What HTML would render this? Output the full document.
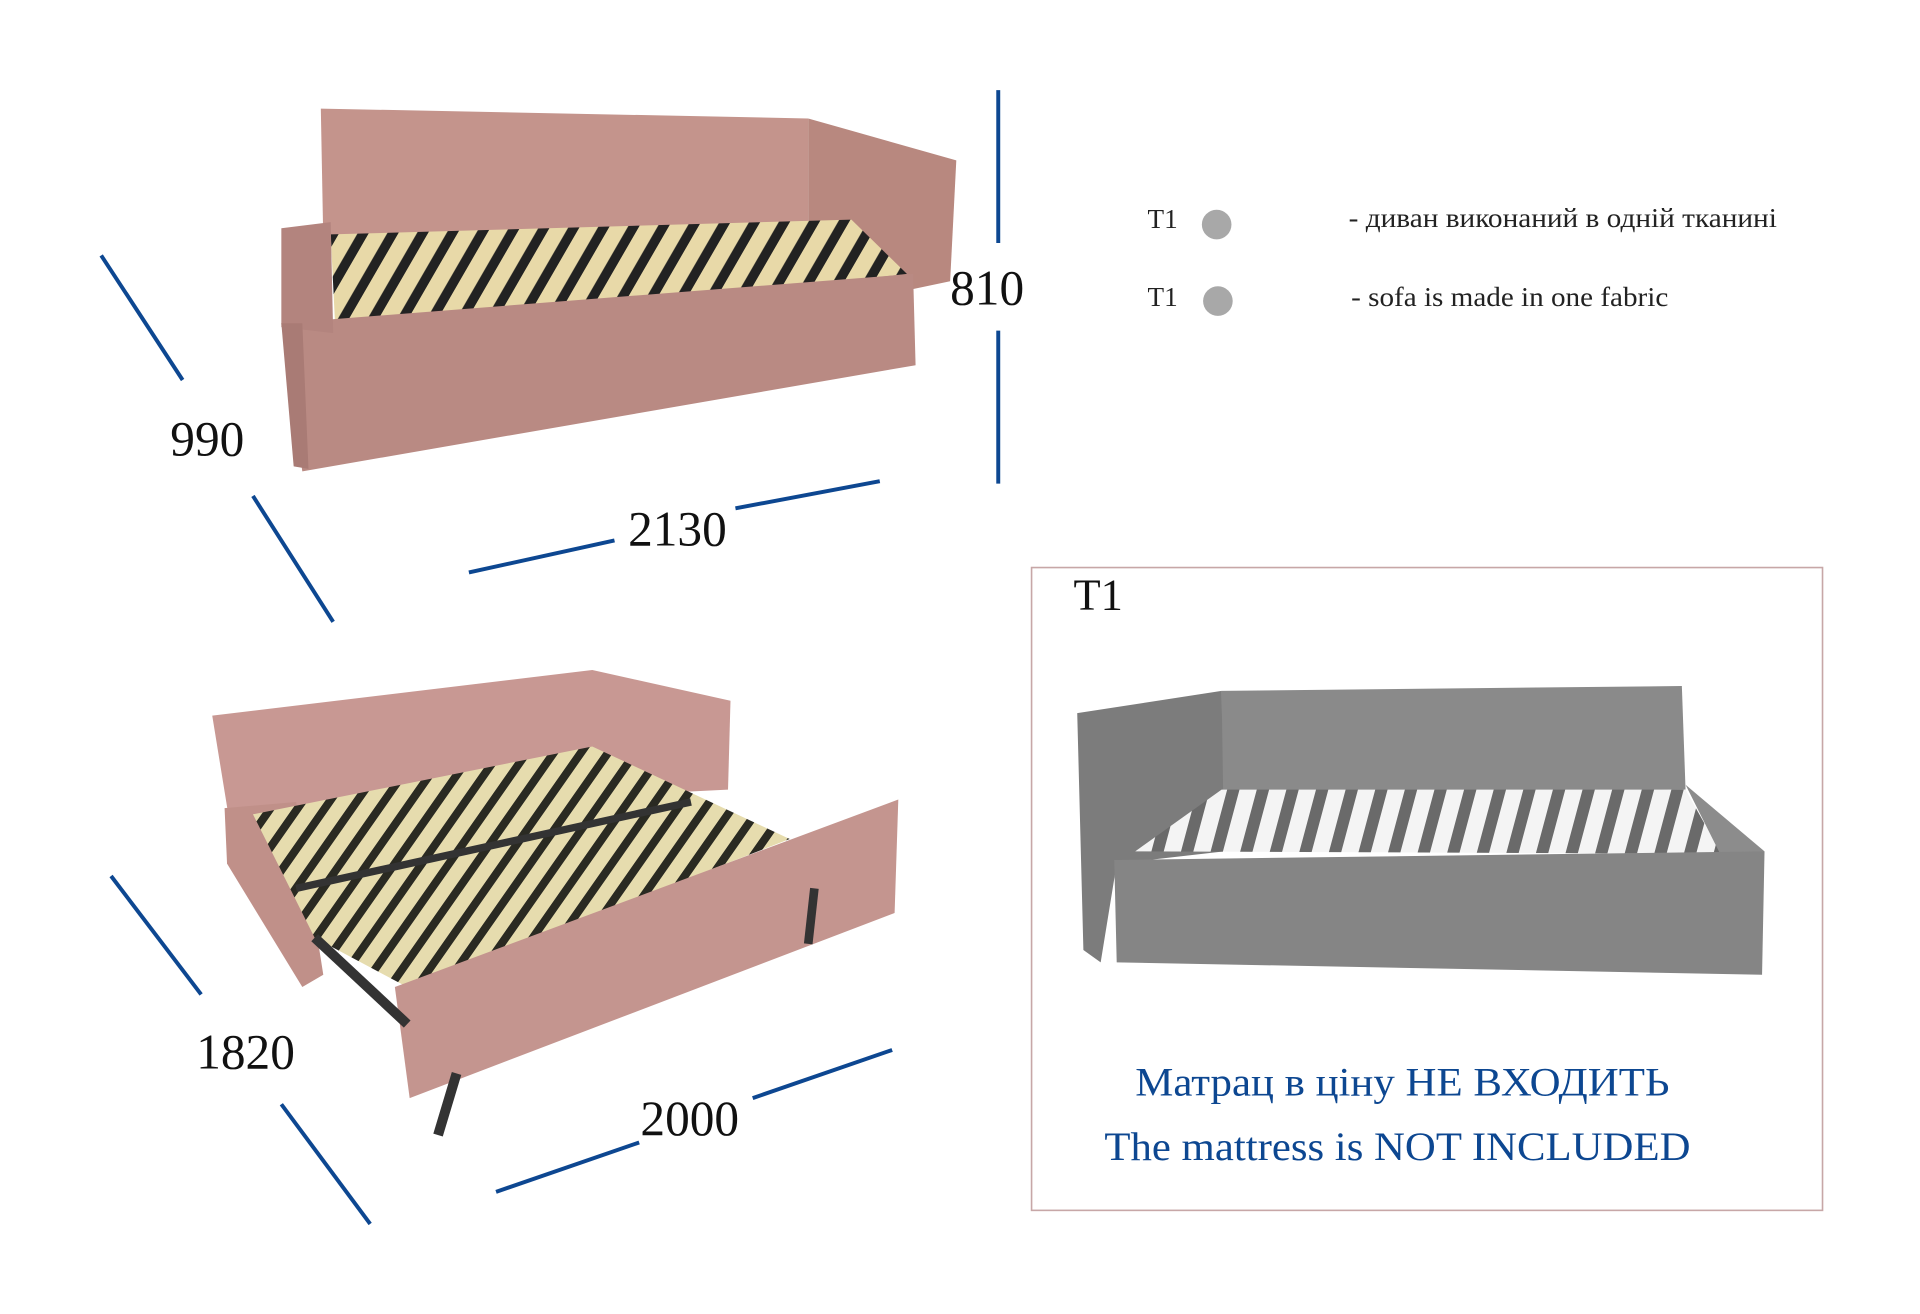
<!DOCTYPE html>
<html><head><meta charset="utf-8"><style>
html,body{margin:0;padding:0;background:#fff;width:1920px;height:1314px;overflow:hidden}
svg{display:block}
text{font-family:"Liberation Serif","Noto Serif CJK SC",serif}
</style></head><body>
<svg width="1920" height="1314" viewBox="0 0 1556 1065" preserveAspectRatio="none" xmlns="http://www.w3.org/2000/svg">
<defs>
<pattern id="slat" width="24" height="10" patternUnits="userSpaceOnUse" patternTransform="skewX(-30)">
<rect width="24" height="10" fill="#222"/><rect width="15" height="10" fill="#e8d9a8"/></pattern>
<pattern id="slat2" width="22" height="10" patternUnits="userSpaceOnUse" patternTransform="skewX(-35)">
<rect width="22" height="10" fill="#2a2a22"/><rect width="14" height="10" fill="#e6dcae"/></pattern>
<pattern id="slat3" width="24" height="10" patternUnits="userSpaceOnUse" patternTransform="skewX(-15)">
<rect width="24" height="10" fill="#6a6a6a"/><rect width="14" height="10" fill="#f4f4f4"/></pattern>
</defs>
<rect width="1556" height="1065" fill="#fff"/>

<polygon points="260,88 655,96 655,205 262,195" fill="#c4948c"/>
<polygon points="655,96 775,130 770,228 655,252" fill="#b8887f"/>
<polygon points="268,190 690,178 735,222 272,272" fill="url(#slat)"/>
<polygon points="228,262 740,222 742,296 245,382" fill="#b98a83"/>
<polygon points="228,185 268,180 270,270 228,265" fill="#b3847e"/>
<polygon points="228,262 245,262 250,380 238,378" fill="#a97b75"/>

<polygon points="172,580 480,543 592,568 590,640 185,660" fill="#c89893"/>
<polygon points="182,655 240,650 262,790 245,800 184,700" fill="#c09089"/>
<polygon points="205,660 480,605 640,680 330,800 255,760" fill="url(#slat2)"/>
<line x1="240" y1="720" x2="560" y2="650" stroke="#333" stroke-width="6"/>
<polygon points="320,800 728,648 725,740 332,890" fill="#c4958f"/>
<line x1="370" y1="870" x2="355" y2="920" stroke="#333" stroke-width="8"/>
<line x1="660" y1="720" x2="655" y2="765" stroke="#333" stroke-width="7"/>
<line x1="255" y1="760" x2="330" y2="830" stroke="#333" stroke-width="8"/>

<g stroke="#0d4791" stroke-width="3.2" fill="none">
<line x1="82" y1="207" x2="148" y2="308"/>
<line x1="205" y1="402" x2="270" y2="504"/>
<line x1="809" y1="73" x2="809" y2="197"/>
<line x1="809" y1="268" x2="809" y2="392"/>
<line x1="380" y1="464" x2="498" y2="438"/>
<line x1="596" y1="412" x2="713" y2="390"/>
<line x1="90" y1="710" x2="163" y2="806"/>
<line x1="228" y1="895" x2="300" y2="992"/>
<line x1="402" y1="966" x2="518" y2="926"/>
<line x1="610" y1="890" x2="723" y2="851"/>
</g>
<g font-size="40" fill="#111" text-anchor="middle">
<text x="168" y="369">990</text>
<text x="800" y="247">810</text>
<text x="549" y="442">2130</text>
<text x="199" y="866">1820</text>
<text x="559" y="920">2000</text>
</g>

<g font-size="22" fill="#222">
<text x="930" y="185">T1</text>
<text x="930" y="248">T1</text>
<text x="1093" y="184" textLength="347" lengthAdjust="spacingAndGlyphs">- диван виконаний в одній тканині</text>
<text x="1095" y="248" textLength="257" lengthAdjust="spacingAndGlyphs">- sofa is made in one fabric</text>
</g>
<circle cx="986" cy="182" r="12" fill="#a8a8a8"/>
<circle cx="987" cy="244" r="12" fill="#a8a8a8"/>

<rect x="836" y="460" width="641" height="521" fill="none" stroke="#c7a7a7" stroke-width="1.3"/>
<text x="870" y="494" font-size="36" fill="#111">T1</text>
<polygon points="990,560 1363,556 1366,640 990,645" fill="#8a8a8a"/>
<polygon points="873,578 990,560 992,690 905,700 892,780 878,770" fill="#7c7c7c"/>
<polygon points="920,690 990,640 1366,640 1395,692" fill="url(#slat3)"/>
<polygon points="1366,636 1430,690 1395,694" fill="#8c8c8c"/>
<polygon points="903,697 1430,690 1428,790 905,780" fill="#858585"/>
<g font-size="33" fill="#0d4791">
<text x="920" y="888" textLength="433" lengthAdjust="spacingAndGlyphs">Матрац в ціну НЕ ВХОДИТЬ</text>
<text x="895" y="940" textLength="475" lengthAdjust="spacingAndGlyphs">The mattress is NOT INCLUDED</text>
</g>
</svg>
</body></html>
